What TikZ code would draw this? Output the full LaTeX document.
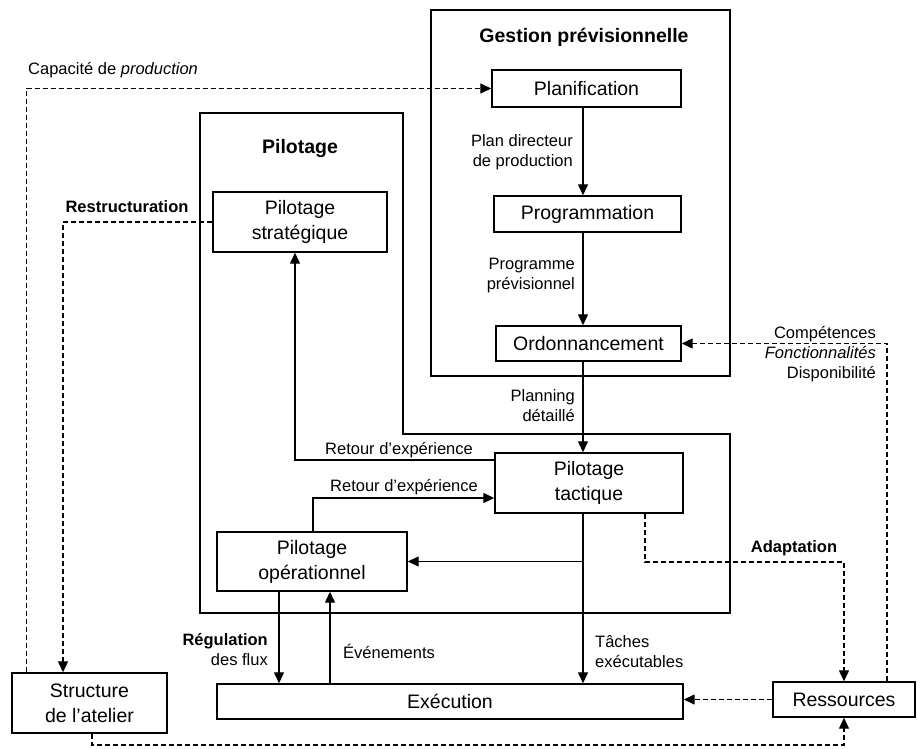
\documentclass[tikz,border=0pt]{standalone}
\usepackage{fontspec}
\setmainfont{Liberation Sans}
\usetikzlibrary{arrows.meta}
\newcommand\bxfont{\fontsize{19.5}{25}\selectfont}
\newcommand\lbfont{\fontsize{16.5}{20}\selectfont}
\tikzset{
  boxst/.style={draw, line width=1.4pt, font=\bxfont, align=center, inner sep=0pt},
  lbl/.style={font=\lbfont, inner sep=0pt},
  conn/.style={line width=1.3pt, -{Triangle[length=11pt,width=10pt]}},
  dconn/.style={conn, dash pattern=on 5pt off 3pt},
  frame/.style={draw, line width=1.4pt},
}
\begin{document}
\begin{tikzpicture}[x=1pt,y=-1pt]
\useasboundingbox (0,0) rectangle (918,749);

% containers
\draw[frame] (431,10) rectangle (730,376);
\node[font=\bxfont\bfseries, inner sep=0pt] (gtitle) at (584,37) {Gestion prévisionnelle};
\draw[frame] (200,113) -- (403,113) -- (403,434) -- (730,434) -- (730,613) -- (200,613) -- cycle;
\node[font=\bxfont\bfseries, inner sep=0pt] (ptitle) at (300,149) {Pilotage};

% boxes
\node[boxst, minimum width=189pt, minimum height=37pt] (plan) at (586.5,88.5) {Planification};
\node[boxst, minimum width=187pt, minimum height=36pt] (prog) at (587.5,214) {Programmation};
\node[boxst, minimum width=185pt, minimum height=35pt] (ordo) at (588.5,343.5) {Ordonnancement};
\node[boxst, minimum width=174pt, minimum height=60pt] (strat) at (300,222) {Pilotage\\stratégique};
\node[boxst, minimum width=188pt, minimum height=60pt] (tact) at (589,483) {Pilotage\\tactique};
\node[boxst, minimum width=190pt, minimum height=59pt] (oper) at (312,561.5) {Pilotage\\opérationnel};
\node[boxst, minimum width=466pt, minimum height=35pt] (exec) at (450,701.5) {Exécution};
\node[boxst, minimum width=155pt, minimum height=60pt] (struct) at (89.5,703) {Structure\\de l'atelier};
\node[boxst, minimum width=142pt, minimum height=35pt] (ress) at (844,699.5) {Ressources};

% helper coordinates
\coordinate (col) at (583,0);
\coordinate (r1) at (295,460);
\coordinate (r2) at (313,498);
\coordinate (rg) at (279,0);
\coordinate (ev) at (330,0);
\coordinate (ad) at (645,562);
\coordinate (cf) at (887,0);
\coordinate (bt) at (92,745);

% solid connectors
\draw[conn] (plan.south -| col) -- (prog.north -| col);
\draw[conn] (prog.south -| col) -- (ordo.north -| col);
\draw[conn] (ordo.south -| col) -- (tact.north -| col);
\draw[conn] (tact.south -| col) -- (exec.north -| col);
\draw[conn] (oper.east -| col) -- (oper.east);
\draw[conn] (tact.west |- r1) -- (r1) -- (strat.south -| r1);
\draw[conn] (oper.north -| r2) -- (r2) -- (tact.west |- r2);
\draw[conn] (oper.south -| rg) -- (exec.north -| rg);
\draw[conn] (exec.north -| ev) -- (oper.south -| ev);

% dashed connectors
\draw[dconn] ([xshift=15pt]struct.north west) |- (plan.west);
\draw[dconn] (strat.west) -| ([xshift=-26.5pt]struct.north);
\draw[dconn] (tact.south -| ad) -- (ad) -| (ress.north);
\draw[dconn] (ress.north -| cf) |- (ordo.east);
\draw[dconn] (ress.west) -- (exec.east |- ress.west);
\draw[dconn] (struct.south -| bt) -- (bt) -| (ress.south);

% labels
\node[lbl, anchor=west] (lcap) at (28,70) {Capacité de \textit{production}};
\node[lbl, font=\lbfont\bfseries] (lrestr) at (127,207) {Restructuration};
\node[lbl, anchor=east, align=right] (lpdp) at (573,152) {Plan directeur\\de production};
\node[lbl, anchor=east, align=right] (lprev) at (575,275.5) {Programme\\prévisionnel};
\node[lbl, anchor=east, align=right] (lpdet) at (575,406) {Planning\\détaillé};
\node[lbl] (lret1) at (399,450) {Retour d'expérience};
\node[lbl] (lret2) at (404,487) {Retour d'expérience};
\node[lbl, anchor=west, align=left] (ltach) at (595,652) {Tâches\\exécutables};
\node[lbl, anchor=east, align=right] (lreg) at (268,650) {\textbf{Régulation}\\des flux};
\node[lbl, anchor=west] (lev) at (343,651) {Événements};
\node[lbl, font=\lbfont\bfseries] (lad) at (794,548) {Adaptation};
\node[lbl, anchor=east, align=right] (lcomp) at (876,354) {Compétences\\\textit{Fonctionnalités}\\Disponibilité};
\end{tikzpicture}
\end{document}
